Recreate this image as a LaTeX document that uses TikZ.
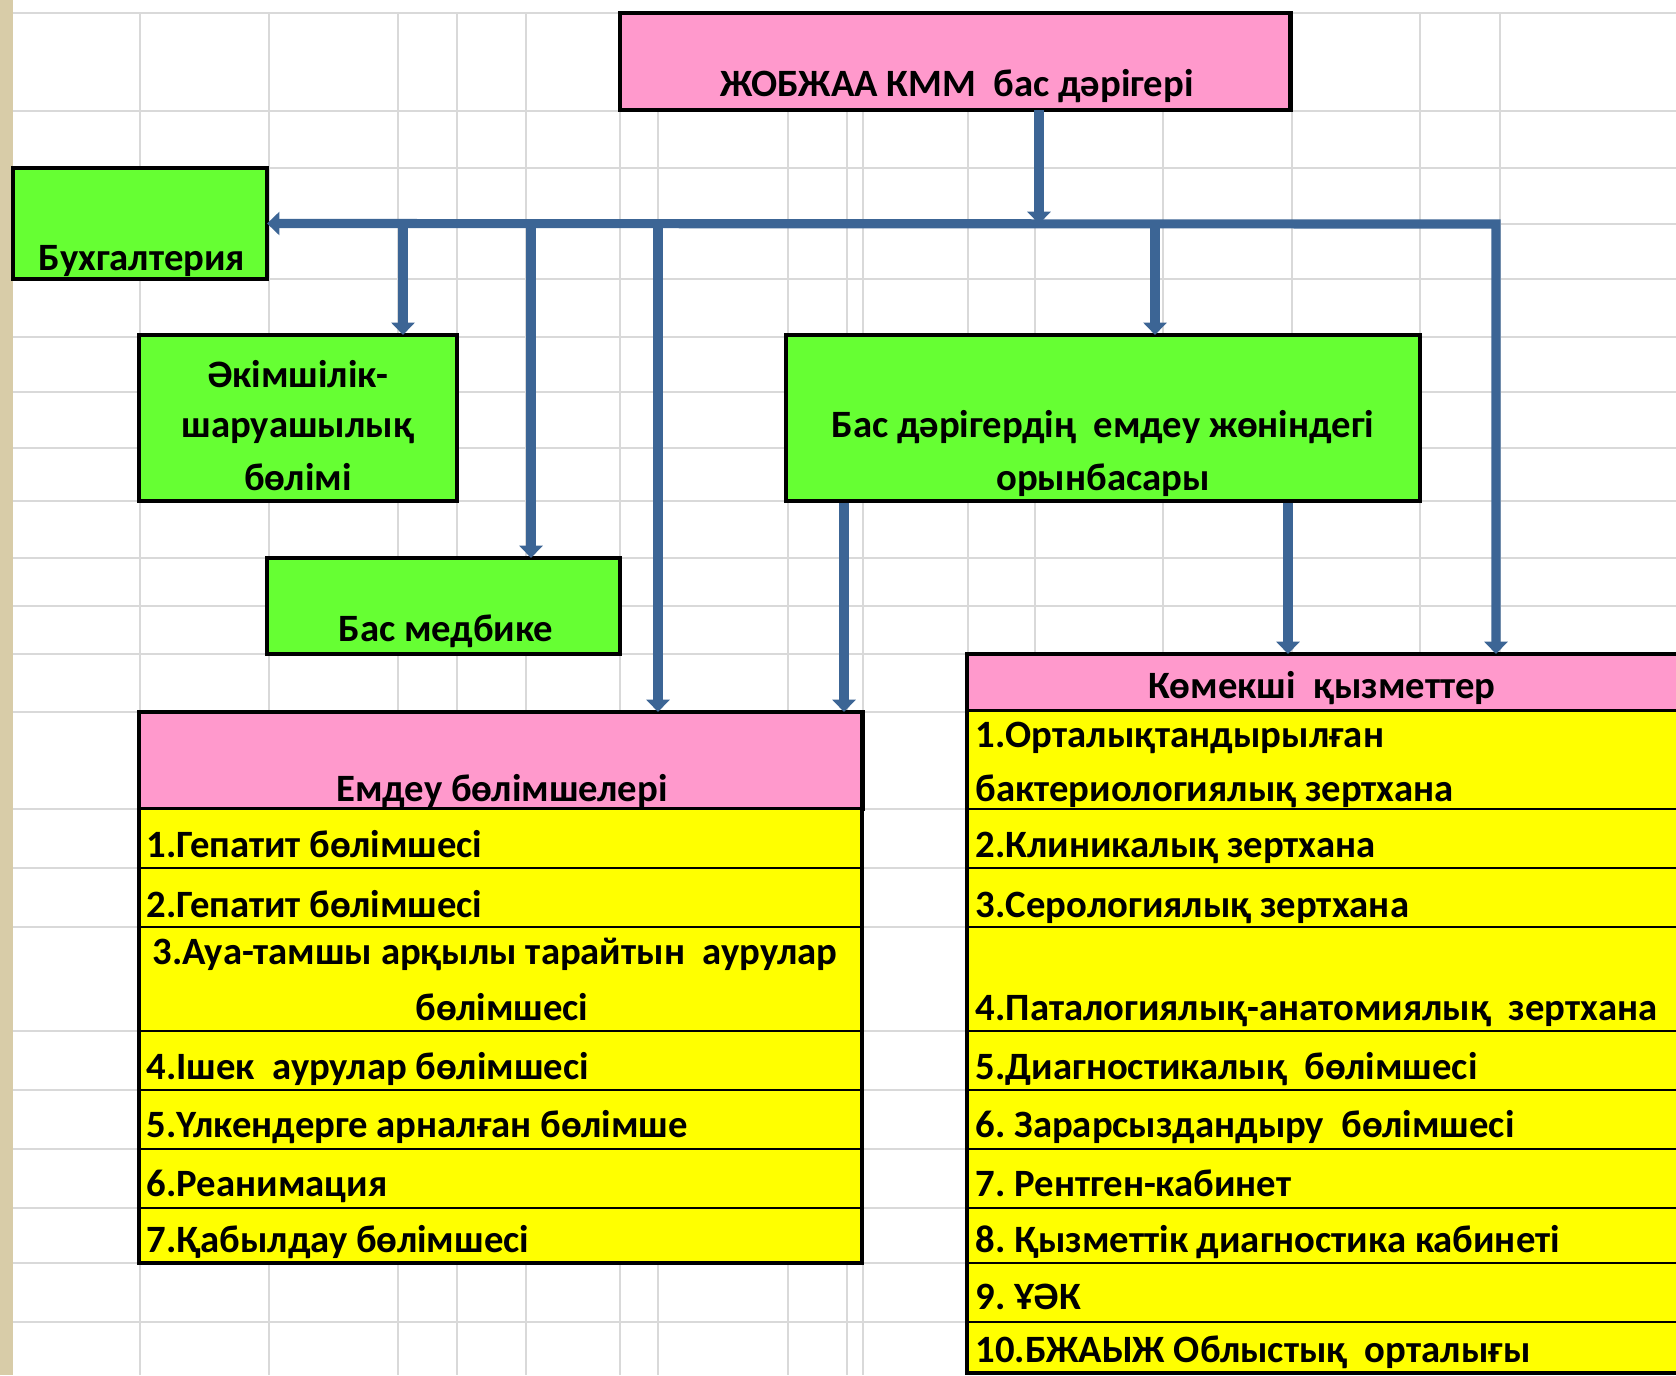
\documentclass[tikz,border=0pt]{standalone}
\usepackage{fontspec}
\setmainfont{Carlito}
\usetikzlibrary{arrows.meta}
\definecolor{pinkbox}{HTML}{FF99CC}
\definecolor{greenbox}{HTML}{66FF33}
\definecolor{yellowbox}{HTML}{FFFF00}
\definecolor{links}{HTML}{3C6595}
\definecolor{sheet}{HTML}{D9D9D9}
\definecolor{edge}{HTML}{D8CCA8}

\begin{document}
\begin{tikzpicture}[x=0.01cm, y=-0.01cm,
    box/.style={draw, line width=1.3pt, inner sep=0pt, outer sep=0pt},
    lbl/.style={font=\bfseries\fontsize{11}{14}\selectfont\frenchspacing, inner sep=0pt,
      text height=7pt, text depth=2pt},
    item/.style={lbl, anchor=west},
    conn/.style={links, line width=2.6pt, -{Triangle[width=6.5pt,length=3.5pt]}},
    gridline/.style={sheet, line width=0.6pt}]
  \useasboundingbox (0,0) rectangle (1676,1375);
  \clip (0,0) rectangle (1676,1375);
  % Sheet background
  \fill[white] (0,0) rectangle (1676,1375);
  \fill[edge] (0,0) rectangle (13,1375);
  \foreach \x in {140,269,398,457,526,620,658,788,847,863,968,1035,1163,1292,1420,1500} {
    \draw[gridline] (\x,13) -- (\x,1375);
  }
  \foreach \y in {13,111,168,224,279,337,392,448,501,558,606,654,712,809,868,927,1031,1090,1149,1208,1263,1322} {
    \draw[gridline] (13,\y) -- (1676,\y);
  }
  % Boxes
  \node[box, fill=pinkbox, minimum width=6.7cm, minimum height=0.97cm] (chief) at (955,61.5) {};
  \node[box, fill=greenbox, minimum width=2.54cm, minimum height=1.11cm] (buh) at (140,223.5) {};
  \node[box, fill=greenbox, minimum width=3.18cm, minimum height=1.66cm] (admin) at (298,418) {};
  \node[box, fill=greenbox, minimum width=3.53cm, minimum height=0.96cm] (nurse) at (443.5,606) {};
  \node[box, fill=greenbox, minimum width=6.34cm, minimum height=1.66cm] (deputy) at (1103,418) {};
  \node[box, fill=pinkbox, minimum width=7.23cm, minimum height=0.97cm] (treat) at (500.5,760.5) {};
  \node[box, fill=pinkbox, minimum width=7.33cm, minimum height=0.57cm] (aux) at (1333.5,682.5) {};
  % Table rows
  \foreach \t/\b in {809/868, 868/927, 927/1031, 1031/1090, 1090/1149, 1149/1208, 1208/1263} {
    \draw[fill=yellowbox, line width=0.6pt] (139,\t) rectangle (862,\b);
  }
  \draw[line width=1.3pt] (139,712) rectangle (862,1263);
  \foreach \t/\b in {711/809, 809/868, 868/927, 927/1031, 1031/1090, 1090/1149, 1149/1208, 1208/1263, 1263/1322, 1322/1373} {
    \draw[fill=yellowbox, line width=0.6pt] (967,\t) rectangle (1700,\b);
  }
  \draw[line width=1.3pt] (967,654) rectangle (1700,1373);
  % Labels
  \node[lbl] (chieft) at (957,88) {ЖОБЖАА КММ~ бас дәрігері};
  \node[lbl] (buht) at (142,262) {Бухгалтерия};
  \foreach \y/\s [count=\i] in {379/Әкімшілік-, 429/шаруашылық, 482/бөлімі} {
    \node[lbl] (admint\i) at (298,\y) {\s};
  }
  \node[lbl] (nurset) at (446,633) {Бас медбике};
  \node[lbl] (deputyt1) at (1103,429) {Бас дәрігердің~ емдеу жөніндегі};
  \node[lbl] (deputyt2) at (1103,482) {орынбасары};
  \node[lbl] (treatt) at (502,793) {Емдеу бөлімшелері};
  \node[lbl] (auxt) at (1322,690) {Көмекші~ қызметтер};
  \foreach \y/\s [count=\i] in {849/1.Гепатит бөлімшесі, 909/2.Гепатит бөлімшесі, 1071/4.Ішек~ аурулар бөлімшесі, 1129/5.Үлкендерге арналған бөлімше, 1188/6.Реанимация, 1244/7.Қабылдау бөлімшесі} {
    \node[item] (em\i) at (146,\y) {\s};
  }
  \node[lbl] (em7) at (495,956) {3.Ауа-тамшы арқылы тарайтын~ аурулар};
  \node[lbl] (em8) at (502,1012) {бөлімшесі};
  \node[item] (ax1) at (975,739) {1.Орталықтандырылған};
  \node[item] (ax0) at (975,793) {бактериологиялық зертхана};
  \foreach \y/\s [count=\i from 2] in {849/2.Клиникалық зертхана, 909/3.Серологиялық зертхана, 1012/4.Паталогиялық-анатомиялық~ зертхана, 1071/5.Диагностикалық~ бөлімшесі, 1129/6. Зарарсыздандыру~ бөлімшесі, 1188/7. Рентген-кабинет, 1244/8. Қызметтік диагностика кабинеті, 1301/9. ҰӘК, 1354/10.БЖАЫЖ Облыстық~ орталығы} {
    \node[item] (ax\i) at (975,\y) {\s};
  }
  % Connectors
  \coordinate (top) at (1039,224);
  \coordinate (barR) at (1496,224);
  \coordinate (a1) at (403,224);
  \coordinate (a2) at (531,224);
  \coordinate (a3) at (658,224);
  \coordinate (a4) at (1155,224);
  \coordinate (b1) at (844,503);
  \coordinate (b2) at (1288,503);
  \draw[conn] (top |- chief.south) -- (top);
  \draw[conn, {Triangle[width=6.5pt,length=3.5pt]}-{Triangle[width=6.5pt,length=3.5pt]}] (buh.east) -- (barR) -- (barR |- aux.north);
  \foreach \p/\n in {a1/admin, a2/nurse, a3/treat, a4/deputy} {
    \draw[conn] (\p) -- (\p |- \n.north);
  }
  \draw[conn] (b1) -- (b1 |- treat.north);
  \draw[conn] (b2) -- (b2 |- aux.north);
\end{tikzpicture}
\end{document}
